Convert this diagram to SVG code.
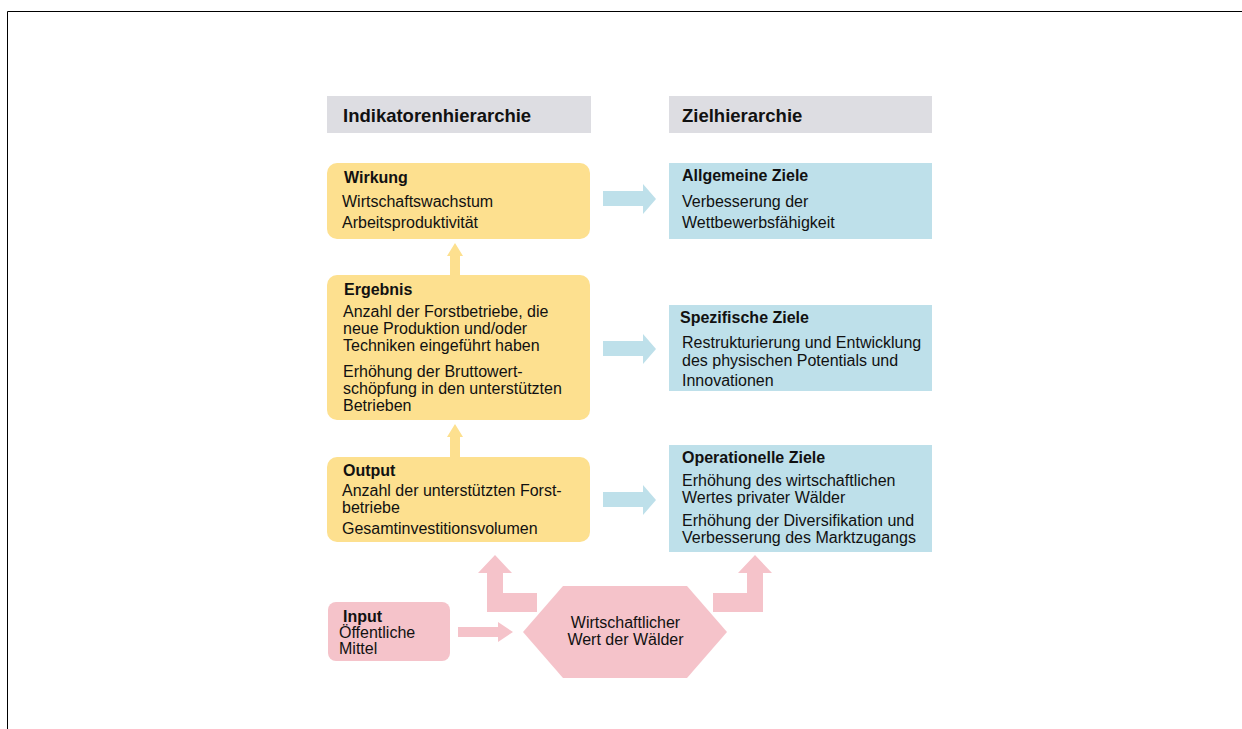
<svg xmlns="http://www.w3.org/2000/svg" width="1242" height="729" viewBox="0 0 1242 729">
<style>
text{font-family:"Liberation Sans",Arial,Helvetica,sans-serif;font-size:16px;fill:#111}
.h{font-size:18.5px;font-weight:bold}
.t{font-weight:bold}
.hdr{fill:#dddde2}
.y{fill:#fde08f}
.b{fill:#bee0ea}
.p{fill:#f5c3ca}
.c{text-anchor:middle}
</style>
<rect width="1242" height="729" fill="#fff"/>
<path d="M7.5 729V11.5H1242" fill="none" stroke="#000" stroke-width="1"/>
<g id="hdr-ind"><rect class="hdr" x="327" y="96" width="264" height="37"/><text class="h" x="343" y="122">Indikatorenhierarchie</text></g>
<g id="hdr-ziel"><rect class="hdr" x="669" y="96" width="263" height="37"/><text class="h" x="682" y="122">Zielhierarchie</text></g>
<g id="wirkung"><rect class="y" x="327" y="163" width="263" height="76" rx="10"/>
<text class="t" x="344" y="183">Wirkung</text>
<text x="342" y="207">Wirtschaftswachstum</text>
<text x="342" y="228">Arbeitsproduktivität</text></g>
<g id="allgemeine"><rect class="b" x="669" y="163" width="263" height="76"/>
<text class="t" x="682" y="181">Allgemeine Ziele</text>
<text x="682" y="207">Verbesserung der</text>
<text x="682" y="228">Wettbewerbsfähigkeit</text></g>
<g id="ergebnis"><rect class="y" x="327" y="275" width="263" height="145" rx="10"/>
<text class="t" x="344" y="295">Ergebnis</text>
<text x="343" y="317">Anzahl der Forstbetriebe, die</text>
<text x="343" y="334">neue Produktion und/oder</text>
<text x="343" y="351">Techniken eingeführt haben</text>
<text x="343" y="377">Erhöhung der Bruttowert-</text>
<text x="343" y="394">schöpfung in den unterstützten</text>
<text x="343" y="411">Betrieben</text></g>
<g id="spezifische"><rect class="b" x="669" y="305" width="263" height="86"/>
<text class="t" x="680" y="323">Spezifische Ziele</text>
<text x="682" y="348">Restrukturierung und Entwicklung</text>
<text x="682" y="366">des physischen Potentials und</text>
<text x="682" y="386">Innovationen</text></g>
<g id="output"><rect class="y" x="327" y="457" width="263" height="85" rx="10"/>
<text class="t" x="343" y="476">Output</text>
<text x="342" y="496">Anzahl der unterstützten Forst-</text>
<text x="342" y="513">betriebe</text>
<text x="342" y="534">Gesamtinvestitionsvolumen</text></g>
<g id="operationelle"><rect class="b" x="669" y="445" width="263" height="107"/>
<text class="t" x="682" y="463">Operationelle Ziele</text>
<text x="682" y="486">Erhöhung des wirtschaftlichen</text>
<text x="682" y="503">Wertes privater Wälder</text>
<text x="682" y="526">Erhöhung der Diversifikation und</text>
<text x="682" y="543">Verbesserung des Marktzugangs</text></g>
<g id="input"><rect class="p" x="328" y="602" width="122" height="59" rx="8"/>
<text class="t" x="343" y="622">Input</text>
<text x="339" y="638">Öffentliche</text>
<text x="339" y="654">Mittel</text></g>
<g id="wert"><polygon class="p" points="523,632 563,586 687,586 727,632 687,678 563,678"/>
<text class="c" x="625.5" y="628">Wirtschaftlicher</text>
<text class="c" x="625.5" y="645">Wert der Wälder</text></g>
<g id="connectors">
<polygon class="b" points="603,191 643,191 643,184 656,199 643,214 643,206 603,206"/>
<polygon class="b" points="603,341 643,341 643,334 656,349 643,364 643,356 603,356"/>
<polygon class="b" points="603,492 643,492 643,485 656,500 643,515 643,507 603,507"/>
<polygon class="y" points="450,275 450,256 447,256 455,243 463,256 460,256 460,275"/>
<polygon class="y" points="450,457 450,437 447,437 455,424 463,437 460,437 460,457"/>
<polygon class="p" points="458,627 498,627 498,622 513,632 498,642 498,637 458,637"/>
<polygon class="p" points="495,555 512,573 503,573 503,593 537,593 537,612 487,612 487,573 478,573"/>
<polygon class="p" points="755,555 772,573 763,573 763,612 713,612 713,593 747,593 747,573 738,573"/>
</g>
</svg>
